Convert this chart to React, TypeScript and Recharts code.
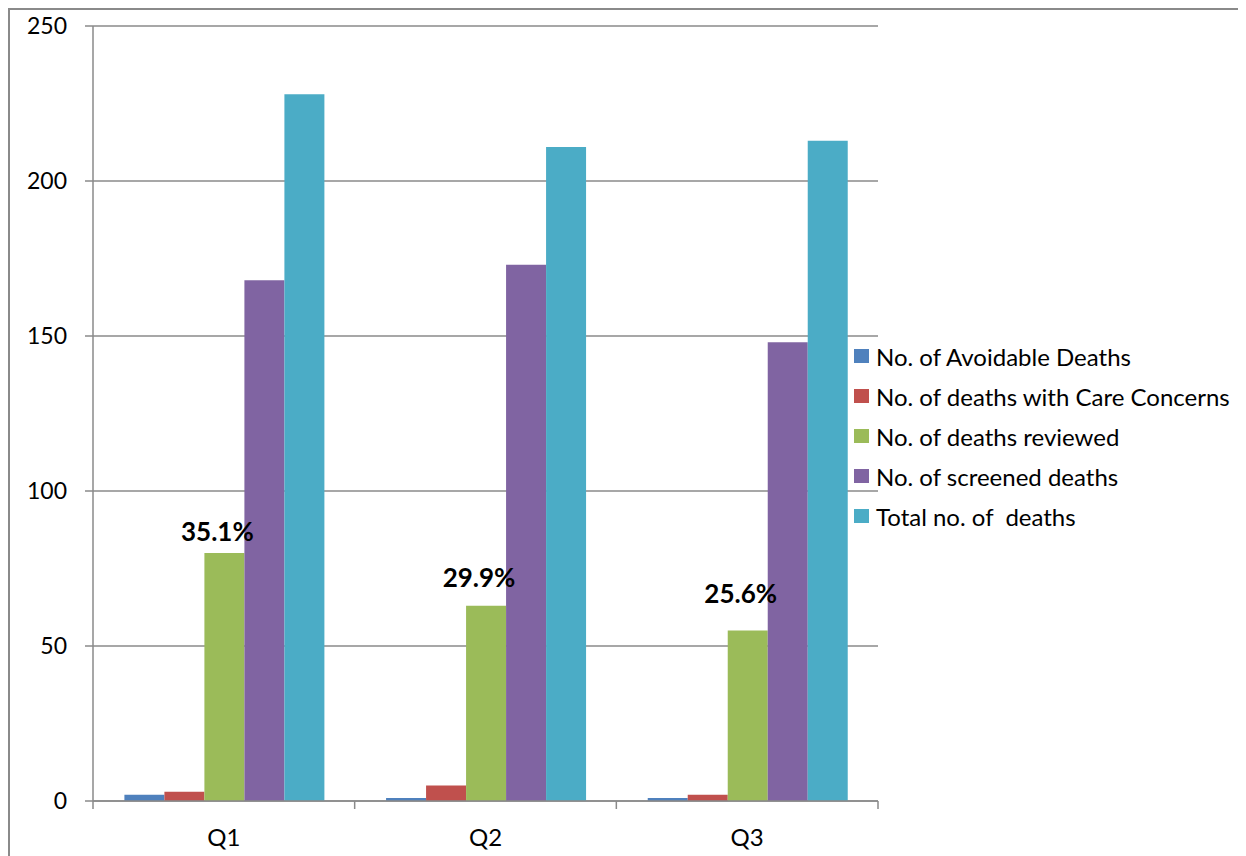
import React from 'react';
import {
  BarChart,
  Bar,
  XAxis,
  YAxis,
  CartesianGrid,
  Legend,
  LabelList,
} from 'recharts';

const quarters = ['Q1', 'Q2', 'Q3'];
const avoidableDeaths = [2, 1, 1];
const careConcernDeaths = [3, 5, 2];
const reviewedDeaths = [80, 63, 55];
const screenedDeaths = [168, 173, 148];
const totalDeaths = [228, 211, 213];
const reviewedShare = ['35.1%', '29.9%', '25.6%'];
const yTicks = [0, 50, 100, 150, 200, 250];

const series = [
  { key: 'avoidable', name: 'No. of Avoidable Deaths', color: '#4F81BD' },
  { key: 'care', name: 'No. of deaths with Care Concerns', color: '#C0504D' },
  { key: 'reviewed', name: 'No. of deaths reviewed', color: '#9BBB59' },
  { key: 'screened', name: 'No. of screened deaths', color: '#8064A2' },
  { key: 'total', name: 'Total no. of  deaths', color: '#4BACC6' },
];

const data = quarters.map((q, i) => ({
  quarter: q,
  avoidable: avoidableDeaths[i],
  care: careConcernDeaths[i],
  reviewed: reviewedDeaths[i],
  screened: screenedDeaths[i],
  total: totalDeaths[i],
  share: reviewedShare[i],
}));

const FONT = 'Lato, "Open Sans", sans-serif';
const AXIS_GRAY = '#8a8a8a';
// how far each percentage sits above its bar
const shareLift = [22, 29, 38];

const QuarterTick = (props: any) => {
  const { x, y, payload, index, visibleTicksCount } = props;
  const half = payload.offset ?? 0;
  const last = index === visibleTicksCount - 1;
  return (
    <g>
      <line x1={x - half} x2={x - half} y1={y} y2={y + 8} stroke={AXIS_GRAY} strokeWidth={1.5} />
      {last && (
        <line x1={x + half} x2={x + half} y1={y} y2={y + 8} stroke={AXIS_GRAY} strokeWidth={1.5} />
      )}
      <text x={x} y={y + 35} textAnchor="middle" dominantBaseline="central" fill="#000" fontSize={24} fontFamily={FONT}>
        {payload.value}
      </text>
    </g>
  );
};

const ShareLabel = (props: any) => {
  const { x, y, width, index, value } = props;
  return (
    <text
      x={x + width / 2 - 7}
      y={y - shareLift[index]}
      textAnchor="middle"
      dominantBaseline="central"
      fontWeight="bold"
      fontSize={26}
      fontFamily={FONT}
      fill="#000"
    >
      {value}
    </text>
  );
};

const LegendList = () => (
  <ul style={{ listStyle: 'none', margin: 0, padding: 0 }}>
    {series.map((s) => (
      <li key={s.key} style={{ height: 40, display: 'flex', alignItems: 'center' }}>
        <span style={{ width: 15, height: 14, background: s.color, display: 'inline-block', marginRight: 7 }} />
        <span style={{ fontFamily: FONT, fontSize: 24, color: '#000', whiteSpace: 'pre' }}>{s.name}</span>
      </li>
    ))}
  </ul>
);

export default function App() {
  return (
    <div
      style={{
        width: 1236,
        height: 846,
        borderTop: `2px solid ${AXIS_GRAY}`,
        borderLeft: `2px solid ${AXIS_GRAY}`,
        background: '#fff',
      }}
    >
      <BarChart
        width={1236}
        height={846}
        data={data}
        margin={{ top: 16, right: 368, left: 0, bottom: 25 }}
        barCategoryGap="12%"
        barGap={0}
      >
        <CartesianGrid vertical={false} stroke={AXIS_GRAY} strokeWidth={1.5} />
        <XAxis
          dataKey="quarter"
          height={30}
          axisLine={{ stroke: AXIS_GRAY, strokeWidth: 1.5 }}
          tickLine={false}
          tickSize={0}
          tickMargin={0}
          tick={<QuarterTick />}
          interval={0}
        />
        <YAxis
          width={83}
          domain={[0, 250]}
          ticks={yTicks}
          axisLine={{ stroke: AXIS_GRAY, strokeWidth: 1.5 }}
          tickLine={{ stroke: AXIS_GRAY, strokeWidth: 1.5 }}
          tickSize={8}
          tickMargin={18}
          tick={{ fill: '#000', fontSize: 23, fontFamily: FONT }}
        />
        <Legend
          layout="vertical"
          align="center"
          verticalAlign="middle"
          content={<LegendList />}
          wrapperStyle={{ left: 844, top: 326, width: 400 }}
        />
        {series.map((s) => (
          <Bar key={s.key} dataKey={s.key} name={s.name} fill={s.color} isAnimationActive={false}>
            {s.key === 'reviewed' && <LabelList dataKey="share" content={<ShareLabel />} />}
          </Bar>
        ))}
      </BarChart>
    </div>
  );
}
